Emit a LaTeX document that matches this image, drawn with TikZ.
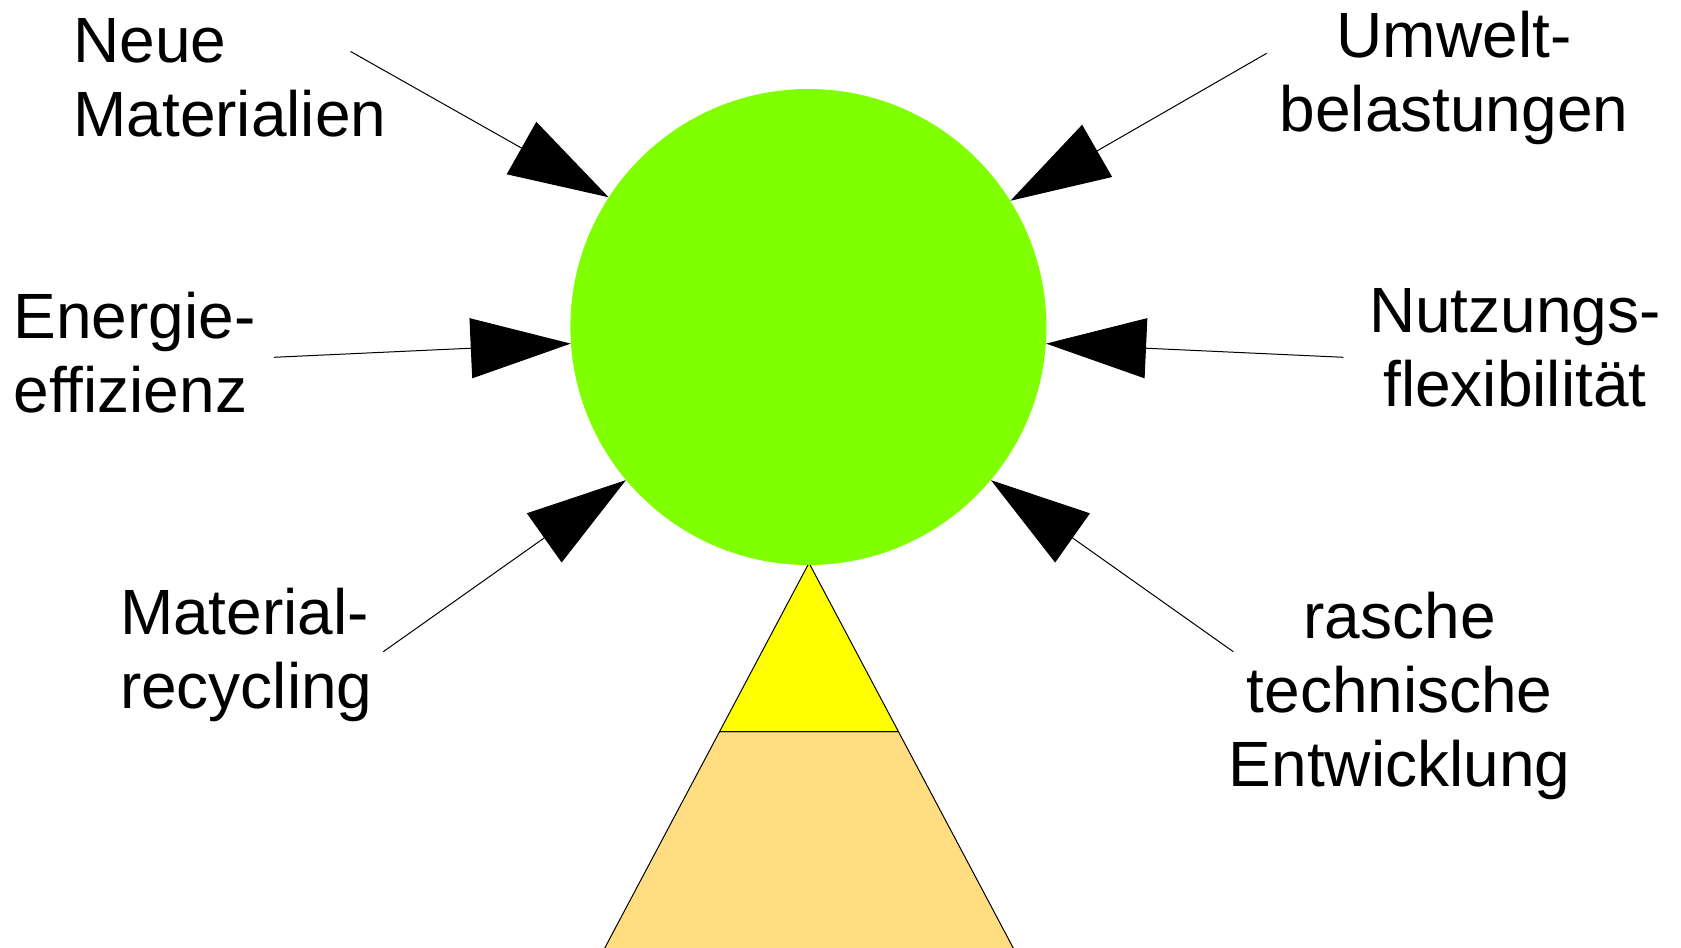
\documentclass[tikz,border=0pt]{standalone}
\usepackage{fontspec}
\setmainfont{Liberation Sans}
\usetikzlibrary{arrows.meta}
\definecolor{ballgreen}{HTML}{80FF00}
\definecolor{pyryellow}{HTML}{FFFF00}
\definecolor{pyrtan}{HTML}{FFDD80}
\tikzset{
  lbl/.style={inner sep=0pt, outer sep=0pt, font=\fontsize{48}{55.5}\selectfont},
  force/.style={draw=black, line width=0.75pt, -{Triangle[length=75pt,width=45pt]}},
  pyr/.style={draw=black, line width=0.75pt, line join=round},
}
\begin{document}
\begin{tikzpicture}[x=0.75pt,y=-0.75pt]
\useasboundingbox (0,0) rectangle (1681,948);
\clip (0,0) rectangle (1681,948);
\fill[white] (0,0) rectangle (1681,948);

% pyramid
\coordinate (apex) at (809,563);
\coordinate (ml) at (719.5,731.7);
\coordinate (mr) at (898.5,731.7);
\coordinate (bl) at (598.4,960);
\coordinate (br) at (1019.6,960);
\filldraw[pyr, fill=pyrtan] (ml) -- (mr) -- (br) -- (bl) -- cycle;
\filldraw[pyr, fill=pyryellow] (apex) -- (mr) -- (ml) -- cycle;

% ball
\node[circle, fill=ballgreen, inner sep=0pt, minimum size=357pt] (ball) at (808.4,327) {};

% labels (anchored at the baseline of the last line)
\node[lbl, anchor=base west, align=left] (neue) at (73.4,136.7) {Neue\\Materialien};
\node[lbl, anchor=base, align=center] (umwelt) at (1454,131.5) {Umwelt-\\belastungen};
\node[lbl, anchor=base west, align=left] (energie) at (13.5,412.7) {Energie-\\effizienz};
\node[lbl, anchor=base, align=center] (nutzung) at (1515,406.5) {Nutzungs-\\flexibilit\"at};
\node[lbl, anchor=base west, align=left] (recycling) at (120,708.3) {Material-\\recycling};
\node[lbl, anchor=base, align=center] (rasche) at (1399.6,786) {rasche\\technische\\Entwicklung};

% arrow tails
\coordinate (t1) at (350.6,51.5);
\coordinate (t2) at (1266.7,53.3);
\coordinate (t3) at (274,357.3);
\coordinate (t4) at (1343.3,357.3);
\coordinate (t5) at (383.3,651.7);
\coordinate (t6) at (1233.3,651.7);

\draw[force] (t1) -- (ball.147.2);
\draw[force] (t2) -- (ball.32.8);
\draw[force] (t3) -- (ball.184.8);
\draw[force] (t4) -- (ball.-4.8);
\draw[force] (t5) -- (ball.220.7);
\draw[force] (t6) -- (ball.-40.4);
\end{tikzpicture}
\end{document}
